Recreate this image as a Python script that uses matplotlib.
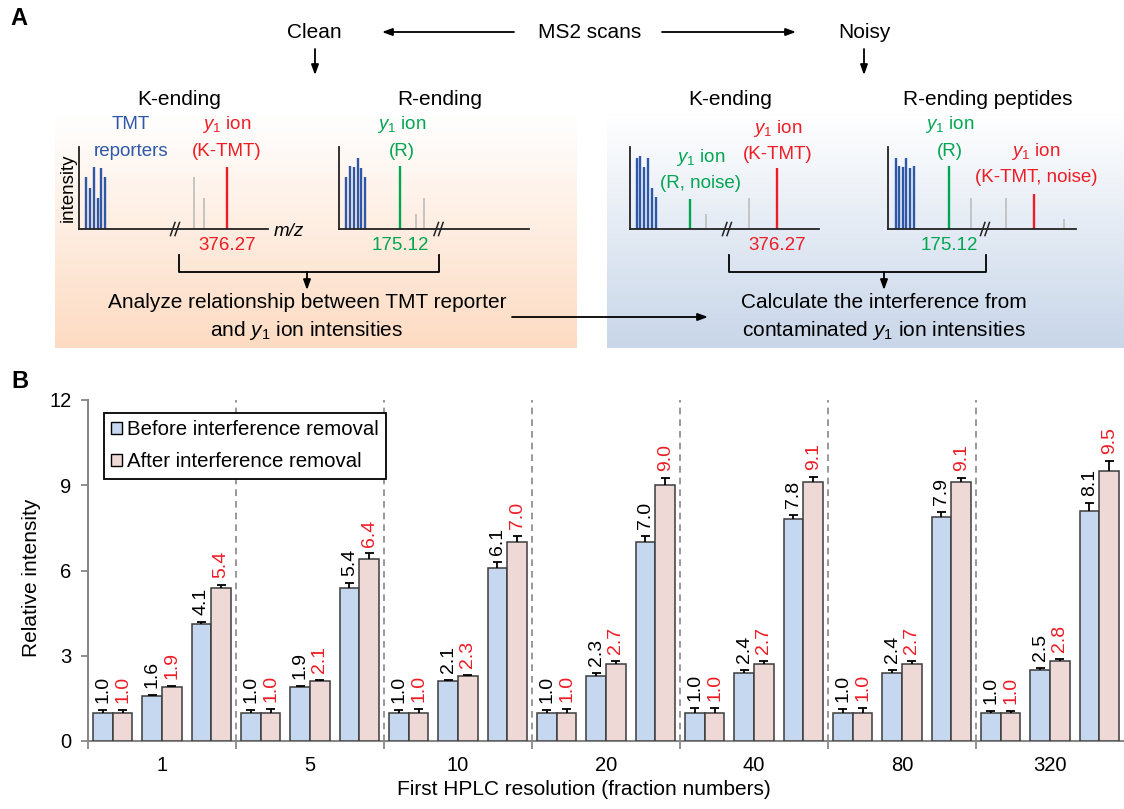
import numpy as np
import matplotlib.pyplot as plt
import matplotlib.colors as mcolors
from matplotlib.patches import Patch

plt.rcParams['font.family'] = 'Liberation Sans'
plt.rcParams['mathtext.fontset'] = 'custom'
plt.rcParams['mathtext.rm'] = 'Liberation Sans'
plt.rcParams['mathtext.it'] = 'Liberation Sans:italic'

W, H = 1124, 809

# ---- panel B data: 3 peptide sets per fractionation level ----
resolutions = ['1', '5', '10', '20', '40', '80', '320']
before_vals = [1.0, 1.6, 4.1, 1.0, 1.9, 5.4, 1.0, 2.1, 6.1, 1.0, 2.3, 7.0,
               1.0, 2.4, 7.8, 1.0, 2.4, 7.9, 1.0, 2.5, 8.1]
after_vals = [1.0, 1.9, 5.4, 1.0, 2.1, 6.4, 1.0, 2.3, 7.0, 1.0, 2.7, 9.0,
              1.0, 2.7, 9.1, 1.0, 2.7, 9.1, 1.0, 2.8, 9.5]
before_err = [0.08, 0.03, 0.1, 0.1, 0.03, 0.17, 0.1, 0.04, 0.2, 0.1, 0.08, 0.23,
              0.17, 0.1, 0.17, 0.13, 0.1, 0.17, 0.07, 0.08, 0.28]
after_err = [0.1, 0.03, 0.1, 0.12, 0.05, 0.2, 0.12, 0.04, 0.22, 0.12, 0.12, 0.25,
             0.17, 0.1, 0.18, 0.15, 0.12, 0.17, 0.07, 0.1, 0.35]

# ---- panel A schematic spectra: (position 0-100, relative height 0-100, ion type) ----
clean_k_peaks = [(3.7, 63, 'rep'), (5.8, 50, 'rep'), (8.1, 76, 'rep'), (10.0, 38, 'rep'),
                 (11.8, 74, 'rep'), (13.7, 63, 'rep'),
                 (60.7, 63, 'other'), (66.2, 38, 'other'), (78.4, 76, 'yK')]
clean_r_peaks = [(3.7, 63, 'rep'), (6.0, 77, 'rep'), (7.9, 76, 'rep'), (10.2, 87, 'rep'),
                 (12.0, 74, 'rep'), (13.9, 63, 'rep'),
                 (32.3, 77, 'yR'), (40.7, 18, 'other'), (44.7, 38, 'other')]
noisy_k_peaks = [(3.4, 87, 'rep'), (5.3, 89, 'rep'), (7.4, 76, 'rep'), (9.4, 87, 'rep'),
                 (11.5, 50, 'rep'), (13.4, 39, 'rep'),
                 (31.8, 37, 'yR'), (40.3, 18, 'other'), (62.7, 38, 'other'), (77.8, 74, 'yK')]
noisy_r_peaks = [(4.1, 87, 'rep'), (6.1, 77, 'rep'), (8.0, 76, 'rep'), (9.8, 87, 'rep'),
                 (12.0, 74, 'rep'), (13.8, 77, 'rep'),
                 (32.3, 77, 'yR'), (44.4, 38, 'other'), (62.6, 38, 'other'),
                 (77.7, 43, 'yK'), (93.6, 12, 'other')]

BLUE = '#2f57a8'
RED = '#ee1c25'
GREEN = '#00a651'
GRAY = '#bdbdbd'
peak_colors = {'rep': BLUE, 'yK': RED, 'yR': GREEN, 'other': GRAY}

fig = plt.figure(figsize=(W / 100, H / 100), dpi=100)

# full-figure canvas in pixel units for the schematic
axA = fig.add_axes([0, 0, 1, 1], zorder=0)
axA.axis('off')


def gradient_box(x0, x1, y0, y1, color):
    c = np.array(mcolors.to_rgb(color))
    t = np.linspace(0, 1, 200)[:, None]
    img = ((1 - t) * np.ones(3) + t * c).reshape(200, 1, 3)
    axA.imshow(img, extent=(x0, x1, y1, y0), aspect='auto', origin='upper',
               interpolation='bilinear', zorder=0)


gradient_box(55, 577, 113, 348, '#fddbc2')
gradient_box(607, 1124, 113, 348, '#c8d6e9')
axA.set_xlim(0, W)
axA.set_ylim(H, 0)

arrow = dict(arrowstyle='-|>,head_length=0.6,head_width=0.22', color='k', lw=1.3,
             shrinkA=0, shrinkB=0)
fs_head = 15
fs_small = 13.5

axA.text(19, 18, 'A', fontsize=17, fontweight='bold', ha='center', va='center')
axA.text(20, 381, 'B', fontsize=17, fontweight='bold', ha='center', va='center')

axA.text(314, 32, 'Clean', fontsize=fs_head, ha='center', va='center')
axA.text(590, 32, 'MS2 scans', fontsize=fs_head, ha='center', va='center')
axA.text(864, 32, 'Noisy', fontsize=fs_head, ha='center', va='center')
axA.annotate('', xy=(382, 32), xytext=(514, 32), arrowprops=arrow)
axA.annotate('', xy=(796, 32), xytext=(662, 32), arrowprops=arrow)
axA.annotate('', xy=(315, 75), xytext=(315, 49), arrowprops=arrow)
axA.annotate('', xy=(864, 75), xytext=(864, 49), arrowprops=arrow)

axA.text(179, 99, 'K-ending', fontsize=fs_head, ha='center', va='center')
axA.text(440, 99, 'R-ending', fontsize=fs_head, ha='center', va='center')
axA.text(730, 99, 'K-ending', fontsize=fs_head, ha='center', va='center')
axA.text(988, 99, 'R-ending peptides', fontsize=fs_head, ha='center', va='center')

y1 = r'$y_\mathrm{1}$ ion'


def label(x, y, s, color):
    axA.text(x, y, s, fontsize=fs_small, color=color, ha='center', va='center')


label(131, 124, 'TMT', BLUE)
label(131, 151, 'reporters', BLUE)
label(227, 124, y1, RED)
label(227, 151, '(K-TMT)', RED)
label(227, 245, '376.27', RED)
label(402, 124, y1, GREEN)
label(402, 151, '(R)', GREEN)
label(400, 245, '175.12', GREEN)
label(701, 157, y1, GREEN)
label(700, 183, '(R, noise)', GREEN)
label(778, 128, y1, RED)
label(778, 154, '(K-TMT)', RED)
label(777, 245, '376.27', RED)
label(950, 124, y1, GREEN)
label(950, 151, '(R)', GREEN)
label(1036, 151, y1, RED)
label(1036, 177, '(K-TMT, noise)', RED)
label(949, 245, '175.12', GREEN)
axA.text(68, 188, 'intensity', fontsize=fs_small, rotation=90, ha='center', va='center')
axA.text(289, 231, 'm/z', fontsize=fs_small, style='italic', ha='center', va='center')

# brackets joining the two spectra of each side
for xl, xr, xm in [(178.6, 438.6, 307), (729, 986, 884)]:
    axA.plot([xl, xl, xr, xr], [255, 272, 272, 255], color='k', lw=1.3)
    axA.annotate('', xy=(xm, 290), xytext=(xm, 272), arrowprops=arrow)

axA.text(307, 302, 'Analyze relationship between TMT reporter', fontsize=fs_head,
         ha='center', va='center')
axA.text(307, 330, 'and ' + r'$y_\mathrm{1}$' + ' ion intensities', fontsize=fs_head,
         ha='center', va='center')
axA.text(884, 302, 'Calculate the interference from', fontsize=fs_head,
         ha='center', va='center')
axA.text(884, 330, 'contaminated ' + r'$y_\mathrm{1}$' + ' ion intensities',
         fontsize=fs_head, ha='center', va='center')
axA.annotate('', xy=(708, 317), xytext=(512, 317), arrowprops=arrow)


def spectrum(x0, length, peaks, brk):
    ax = fig.add_axes([x0 / W, 1 - 229 / H, length / W, 82 / H], zorder=2)
    ax.set_xlim(0, 100)
    ax.set_ylim(0, 100)
    ax.patch.set_alpha(0)
    for s in ['top', 'right']:
        ax.spines[s].set_visible(False)
    for s in ['left', 'bottom']:
        ax.spines[s].set_color('#222222')
        ax.spines[s].set_linewidth(1.3)
    ax.set_xticks([])
    ax.set_yticks([])
    for pos, h, kind in peaks:
        lw = 1.2 if kind == 'other' else 1.7
        ax.vlines(pos, 0, h, color=peak_colors[kind], lw=lw)
    # axis break
    for dx in (-1.2, 1.2):
        ax.plot([brk + dx - 1.2, brk + dx + 1.2], [-8, 8], color='#222222', lw=1.1,
                clip_on=False)
    return ax


spectrum(78.6, 189.4, clean_k_peaks, 50.9)
spectrum(338.6, 190, clean_r_peaks, 52.6)
spectrum(630.4, 188.6, noisy_k_peaks, 51.2)
spectrum(887.9, 188.1, noisy_r_peaks, 51.6)

# ---- panel B ----
axB = fig.add_axes([88 / W, 1 - 741 / H, (W - 88) / W, 341 / H], zorder=1)
axB.patch.set_alpha(0)
x = np.arange(len(before_vals))
bw = 0.4
cap = 0.09
before_col = '#c6d8ef'
after_col = '#efd9d7'

series = [(x - bw / 2, before_vals, before_err, before_col, 'k'),
          (x + bw / 2, after_vals, after_err, after_col, RED)]
for xs, vals, errs, fill, txt_col in series:
    vals = np.array(vals)
    errs = np.array(errs)
    axB.bar(xs, vals, bw, color=fill, edgecolor='#3c3c3c', lw=1.1, zorder=3)
    # upper error bars only
    axB.vlines(xs, vals, vals + errs, color='k', lw=1.3, zorder=4)
    axB.hlines(vals + errs, xs - cap, xs + cap, color='k', lw=1.3, zorder=4)
    for xi, v, e in zip(xs, vals, errs):
        axB.annotate(f'{v:.1f}', (xi, v + e), xytext=(0, 5), textcoords='offset points',
                     rotation=90, ha='center', va='bottom', fontsize=14, color=txt_col)

bounds = np.arange(2.5, 20, 3)
for b in bounds:
    axB.axvline(b, color='#888888', lw=1.2, dashes=(4, 3), zorder=1)

axB.set_xlim(-0.5, 20.5)
axB.set_ylim(0, 12)
axB.set_yticks([0, 3, 6, 9, 12])
axB.set_xticks(np.concatenate([[-0.5], bounds]))
axB.set_xticklabels([])
axB.set_xticks(np.arange(1, 21, 3), minor=True)
axB.set_xticklabels(resolutions, minor=True)
axB.tick_params(axis='x', which='major', length=6, color='#888888', width=1.3)
axB.tick_params(axis='x', which='minor', length=0, pad=11, labelsize=14.5)
axB.tick_params(axis='y', length=5, color='#888888', width=1.3, pad=7, labelsize=14.5)
for s in ['top', 'right']:
    axB.spines[s].set_visible(False)
for s in ['left', 'bottom']:
    axB.spines[s].set_color('#888888')
    axB.spines[s].set_linewidth(1.5)

axB.set_ylabel('Relative intensity', fontsize=15)
axB.yaxis.set_label_coords(-0.045, 0.48)
axB.set_xlabel('First HPLC resolution (fraction numbers)', fontsize=15)
axB.xaxis.set_label_coords(0.479, -0.115)

handles = [Patch(facecolor=before_col, edgecolor='k', lw=1),
           Patch(facecolor=after_col, edgecolor='k', lw=1)]
leg = axB.legend(handles, ['Before interference removal', 'After interference removal'],
                 loc='upper left', bbox_to_anchor=(0.0154, 0.962), fontsize=14.7,
                 frameon=True, fancybox=False, edgecolor='k', framealpha=1,
                 handlelength=0.55, handleheight=0.55, handletextpad=0.25,
                 labelspacing=0.65, borderpad=0.35, borderaxespad=0)
leg.get_frame().set_linewidth(1.3)

fig.savefig('out.png', dpi=100)
